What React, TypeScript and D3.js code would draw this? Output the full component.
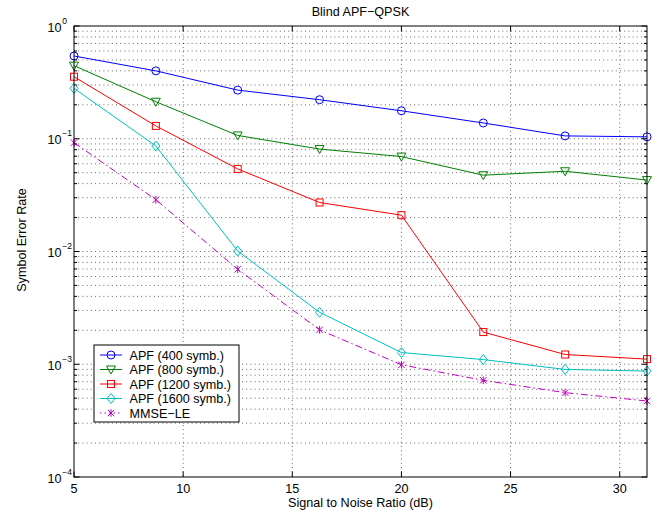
import React from "react";
import * as d3 from "d3";

const snr = [5, 8.75, 12.5, 16.25, 20, 23.75, 27.5, 31.25];
const apf400 = [0.542, 0.40, 0.27, 0.222, 0.177, 0.138, 0.106, 0.104];
const apf800 = [0.445, 0.213, 0.107, 0.081, 0.0695, 0.0475, 0.0515, 0.043];
const apf1200 = [0.355, 0.13, 0.054, 0.0272, 0.021, 0.00193, 0.00122, 0.00111];
const apf1600 = [0.28, 0.0862, 0.0101, 0.00289, 0.00127, 0.0011, 0.0009, 0.00087];
const mmse = [0.0923, 0.0288, 0.00695, 0.00202, 0.00099, 0.00072, 0.00056, 0.000472];

const xTicks = [5, 10, 15, 20, 25, 30];
const yDecades = [-4, -3, -2, -1, 0];
const seriesNames = ["APF (400 symb.)", "APF (800 symb.)", "APF (1200 symb.)", "APF (1600 symb.)", "MMSE-LE"];

const title = "Blind APF\u2212QPSK";
const xLabel = "Signal to Noise Ratio (dB)";
const yLabel = "Symbol Error Rate";

const W = 666, H = 513;
const L = 74, R = 647, T = 26, B = 477;
const FONT = "'Liberation Sans', Arial, Helvetica, sans-serif";

type Series = { name: string; values: number[]; color: string; marker: string; dash?: string };

const series: Series[] = [
  { name: seriesNames[0], values: apf400, color: "#0000ff", marker: "circle" },
  { name: seriesNames[1], values: apf800, color: "#008000", marker: "triangle" },
  { name: seriesNames[2], values: apf1200, color: "#ff0000", marker: "square" },
  { name: seriesNames[3], values: apf1600, color: "#00bfbf", marker: "diamond" },
  { name: seriesNames[4], values: mmse, color: "#bf00bf", marker: "star", dash: "7,3,1.5,3" },
];

function Marker({ type, x, y, color }: { type: string; x: number; y: number; color: string }) {
  const common = { fill: "none", stroke: color, strokeWidth: 1 };
  if (type === "circle") return <circle cx={x} cy={y} r={4} {...common} />;
  if (type === "square") return <rect x={x - 3.5} y={y - 3.5} width={7} height={7} {...common} />;
  if (type === "triangle")
    return <path d={`M${x - 4.5},${y - 3.5}L${x + 4.5},${y - 3.5}L${x},${y + 4.5}Z`} {...common} />;
  if (type === "diamond")
    return <path d={`M${x},${y - 5}L${x + 4},${y}L${x},${y + 5}L${x - 4},${y}Z`} {...common} />;
  const s = 3.2;
  return (
    <path
      d={`M${x - s},${y - s}L${x + s},${y + s}M${x - s},${y + s}L${x + s},${y - s}M${x},${y - s * 1.2}L${x},${y + s * 1.2}`}
      {...common}
    />
  );
}

export default function App() {
  const x = d3.scaleLinear().domain([5, 31.25]).range([L, R]);
  const y = d3.scaleLog().domain([1e-4, 1]).range([B, T]);

  const line = d3
    .line<number>()
    .x((_, i) => x(snr[i]))
    .y((d) => y(d));

  const minorVals: number[] = [];
  for (const d of yDecades.slice(0, -1)) {
    for (let k = 2; k <= 9; k++) minorVals.push(k * Math.pow(10, d));
  }

  const gridStyle = { stroke: "#000", strokeOpacity: 0.6, strokeWidth: 1, strokeDasharray: "1,3.2" };

  const legX = 94, legY = 345, legW = 145, legH = 77;
  const rowY = (i: number) => legY + 10 + i * 14.5;

  return (
    <svg
      width={W}
      height={H}
      style={{ position: "absolute", left: 0, top: 0, background: "#fff" }}
      fontFamily={FONT}
    >
      <rect x={0} y={0} width={W} height={H} fill="#fff" />
      {/* grid */}
      <g>
        {xTicks
          .filter((t) => t !== 5)
          .map((t) => (
            <line key={"gx" + t} x1={x(t)} x2={x(t)} y1={T} y2={B} {...gridStyle} />
          ))}
        {yDecades
          .filter((d) => d !== -4 && d !== 0)
          .map((d) => (
            <line key={"gy" + d} x1={L} x2={R} y1={y(Math.pow(10, d))} y2={y(Math.pow(10, d))} {...gridStyle} />
          ))}
        {minorVals.map((v, i) => (
          <line key={"gm" + i} x1={L} x2={R} y1={y(v)} y2={y(v)} {...gridStyle} />
        ))}
      </g>
      {/* ticks */}
      <g stroke="#000" strokeWidth={1}>
        {xTicks.map((t) => (
          <g key={"tx" + t}>
            <line x1={x(t)} x2={x(t)} y1={B} y2={B - 5.5} />
            <line x1={x(t)} x2={x(t)} y1={T} y2={T + 5.5} />
          </g>
        ))}
        {yDecades.map((d) => (
          <g key={"ty" + d}>
            <line x1={L} x2={L + 5.5} y1={y(Math.pow(10, d))} y2={y(Math.pow(10, d))} />
            <line x1={R} x2={R - 5.5} y1={y(Math.pow(10, d))} y2={y(Math.pow(10, d))} />
          </g>
        ))}
        {minorVals.map((v, i) => (
          <g key={"tm" + i}>
            <line x1={L} x2={L + 3} y1={y(v)} y2={y(v)} />
            <line x1={R} x2={R - 3} y1={y(v)} y2={y(v)} />
          </g>
        ))}
      </g>
      {/* series */}
      {series.map((s) => (
        <g key={s.name}>
          <path d={line(s.values) || ""} fill="none" stroke={s.color} strokeWidth={1} strokeDasharray={s.dash} />
          {s.values.map((v, i) => (
            <Marker key={i} type={s.marker} x={x(snr[i])} y={y(v)} color={s.color} />
          ))}
        </g>
      ))}
      {/* box */}
      <rect x={L} y={T} width={R - L} height={B - T} fill="none" stroke="#000" strokeWidth={1} />
      {/* x tick labels */}
      {xTicks.map((t) => (
        <text key={"xl" + t} x={x(t)} y={493} textAnchor="middle" fontSize={12.6} fill="#000">
          {t}
        </text>
      ))}
      {/* y tick labels */}
      {yDecades.map((d) => {
        const yy = y(Math.pow(10, d));
        return (
          <g key={"yl" + d}>
            <text x={61.5} y={yy + 5.5} textAnchor="end" fontSize={12.6} fill="#000">
              10
            </text>
            <text x={62.3} y={yy - 2.5} textAnchor="start" fontSize={8.5} fill="#000">
              {d === 0 ? "0" : "\u2212" + Math.abs(d)}
            </text>
          </g>
        );
      })}
      {/* labels */}
      <text x={(L + R) / 2} y={16} textAnchor="middle" fontSize={12.6} fill="#000">
        {title}
      </text>
      <text x={(L + R) / 2} y={507} textAnchor="middle" fontSize={12.6} fill="#000">
        {xLabel}
      </text>
      <text
        transform={`translate(26,240) rotate(-90)`}
        textAnchor="middle"
        fontSize={12.6}
        fill="#000"
      >
        {yLabel}
      </text>
      {/* legend */}
      <g>
        <rect x={legX} y={legY} width={legW} height={legH} fill="#fff" stroke="#000" strokeWidth={1} />
        {series.map((s, i) => (
          <g key={"lg" + i}>
            <line
              x1={100}
              x2={122}
              y1={rowY(i)}
              y2={rowY(i)}
              stroke={s.color}
              strokeWidth={1}
              strokeDasharray={s.dash ? "1.5,3,1.5,3" : undefined}
            />
            <Marker type={s.marker} x={111} y={rowY(i)} color={s.color} />
            <text x={129.5} y={rowY(i) + 4.5} fontSize={12.6} fill="#000">
              {s.name === "MMSE-LE" ? "MMSE\u2212LE" : s.name}
            </text>
          </g>
        ))}
      </g>
    </svg>
  );
}
